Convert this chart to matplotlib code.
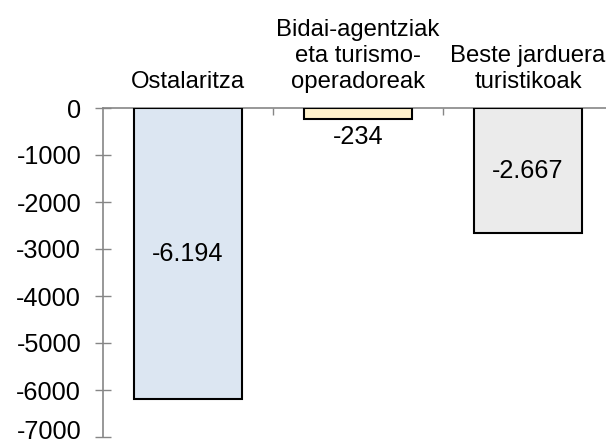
import matplotlib
matplotlib.use("Agg")
import matplotlib.pyplot as plt
import matplotlib.transforms as mtransforms

categories = ["Ostalaritza", "Bidai-agentziak\neta turismo-\noperadoreak", "Beste jarduera\nturistikoak"]
values = [-6194, -234, -2667]
value_labels = ["-6.194", "-234", "-2.667"]
colors = ["#DCE6F2", "#FFF2CC", "#EBEBEB"]
yticks = [0, -1000, -2000, -3000, -4000, -5000, -6000, -7000]

plt.rcParams['font.family'] = ['Liberation Sans', 'DejaVu Sans']
FS = 18.2
FS_CAT = 17.2

fig = plt.figure(figsize=(6.06, 4.45), dpi=100)
ax = fig.add_axes([103/606, 8/445, 510/606, 329/445])

x = list(range(len(categories)))
bars = ax.bar(x, values, width=0.63, color=colors, edgecolor="black", linewidth=1.5, zorder=3)

ax.set_xlim(-0.5, 2.5)
ax.set_ylim(-7000, 0)

for s in ["right", "bottom"]:
    ax.spines[s].set_visible(False)
for s in ["left", "top"]:
    ax.spines[s].set_color("#868686")
    ax.spines[s].set_linewidth(1.2)

ax.set_yticks(yticks)
ax.set_yticklabels([str(v) for v in yticks], fontsize=FS)
ax.tick_params(axis="y", direction="inout", length=11.5, width=1.0, color="#868686", pad=10)

# nudge the lowest tick label up so it stays inside the figure
lowest = ax.get_yticklabels()[-1]
lowest.set_transform(lowest.get_transform() +
                     mtransforms.ScaledTranslation(0, 5.5 / 72, fig.dpi_scale_trans))

ax.xaxis.tick_top()
ax.set_xticks([0.5, 1.5])
ax.set_xticklabels([])
ax.tick_params(axis="x", direction="in", length=5, width=1.0, color="#868686")

for xi, cat in zip(x, categories):
    ax.annotate(cat, xy=(xi, 0), xytext=(0, 11), textcoords="offset points",
                ha="center", va="bottom", fontsize=FS_CAT, linespacing=1.22,
                annotation_clip=False)

for xi, v, lab in zip(x, values, value_labels):
    if abs(v) > 1000:
        ax.text(xi, v / 2, lab, ha="center", va="center", fontsize=FS, zorder=4)
    else:
        ax.annotate(lab, xy=(xi, v), xytext=(0, -4), textcoords="offset points",
                    ha="center", va="top", fontsize=FS, zorder=4)

fig.savefig("out.png", dpi=100)
